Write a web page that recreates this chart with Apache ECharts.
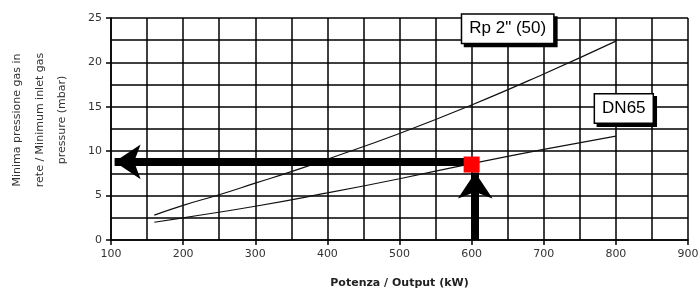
<!DOCTYPE html>
<html>
<head>
<meta charset="utf-8">
<script src="https://cdn.jsdelivr.net/npm/echarts@6/dist/echarts.min.js"></script>
<style>
  html, body { margin: 0; padding: 0; background: #fff; }
  #chart { width: 700px; height: 299px; }
</style>
</head>
<body>
<div id="chart"></div>
<script>
// curve Rp 2" (50)
const rpPower = [160, 200, 250, 300, 350, 400, 500, 600, 700, 800]
const rpPressure = [2.8, 3.9, 5.1, 6.4, 7.7, 9.1, 12.0, 15.2, 18.7, 22.4]
// curve DN65
const dnPower = [160, 200, 300, 400, 500, 600, 700, 800]
const dnPressure = [2.0, 2.5, 3.8, 5.3, 6.9, 8.6, 10.2, 11.7]
// reading example
const readPower = 600
const readPressure = 8.5
const arrowLevel = 8.8
const arrowEndX = 105
const arrowStartY = 0
const arrowTipY = 7.6
// labels
const labelRp = { text: 'Rp 2" (50)', x: 650, y: 23.8 }
const labelDn = { text: 'DN65', x: 811, y: 14.8 }
const yTitle = 'Minima pressione gas in\nrete / Minimum inlet gas\npressure (mbar)'

const chart = echarts.init(document.getElementById('chart'))

const pair = (xs, ys) => xs.map((x, i) => [x, ys[i]])

const boxLabel = (item, shadow) => ({
  value: [item.x, item.y],
  label: {
    show: true,
    position: 'inside',
    offset: shadow ? [3, 3] : [0, 0],
    formatter: item.text,
    color: '#000',
    fontFamily: 'Liberation Sans',
    fontSize: 17,
    backgroundColor: shadow ? '#000' : '#fff',
    borderColor: '#000',
    borderWidth: 1.5,
    padding: [6, 7, 5, 7]
  }
})

const axisFont = { fontFamily: 'DejaVu Sans', fontSize: 11, color: '#333' }
const blackLine = { color: '#000', width: 1.5 }

chart.setOption({
  animation: false,
  grid: { left: 111, right: 12, top: 18, bottom: 59, outerBoundsMode: 'none', containLabel: false },
  graphic: [{
    type: 'text',
    x: 40,
    y: 120,
    rotation: Math.PI / 2,
    style: {
      text: yTitle,
      align: 'center',
      verticalAlign: 'middle',
      fontFamily: 'DejaVu Sans',
      fontSize: 11,
      lineHeight: 22.5,
      fill: '#333'
    }
  }],
  xAxis: {
    type: 'value',
    min: 100,
    max: 900,
    interval: 100,
    name: 'Potenza / Output (kW)',
    nameLocation: 'middle',
    nameGap: 38,
    nameTextStyle: { fontFamily: 'DejaVu Sans', fontSize: 11, fontWeight: 'bold', color: '#222' },
    axisLine: { show: true, lineStyle: blackLine },
    axisTick: { show: true, length: 5, lineStyle: blackLine },
    axisLabel: Object.assign({ margin: 9 }, axisFont),
    splitLine: { show: true, lineStyle: blackLine },
    minorTick: { show: false, splitNumber: 2 },
    minorSplitLine: { show: true, lineStyle: blackLine }
  },
  yAxis: {
    type: 'value',
    min: 0,
    max: 25,
    interval: 5,
    axisLine: { show: true, lineStyle: blackLine },
    axisTick: { show: true, length: 5, lineStyle: blackLine },
    axisLabel: Object.assign({ margin: 9 }, axisFont),
    splitLine: { show: true, lineStyle: blackLine },
    minorTick: { show: false, splitNumber: 2 },
    minorSplitLine: { show: true, lineStyle: blackLine }
  },
  series: [
    {
      name: 'Rp 2" (50)',
      type: 'line',
      data: pair(rpPower, rpPressure),
      smooth: true,
      symbol: 'none',
      lineStyle: { color: '#111', width: 1.2 }
    },
    {
      name: 'DN65',
      type: 'line',
      data: pair(dnPower, dnPressure),
      smooth: true,
      symbol: 'none',
      lineStyle: { color: '#111', width: 1.2 },
      markLine: {
        silent: true,
        symbol: ['none', 'arrow'],
        symbolSize: [26, 26],
        lineStyle: { color: '#000', width: 8, type: 'solid' },
        label: { show: false },
        data: [
          [{ coord: [readPower, arrowLevel] }, { coord: [arrowEndX, arrowLevel] }],
          [{ coord: [readPower + 5, arrowStartY] }, { coord: [readPower + 5, arrowTipY] }]
        ]
      }
    },
    {
      type: 'scatter',
      data: [[readPower, readPressure]],
      symbol: 'rect',
      symbolSize: 16,
      itemStyle: { color: '#ff0000', opacity: 1 },
      z: 5
    },
    {
      type: 'scatter',
      data: [boxLabel(labelRp, true), boxLabel(labelDn, true)],
      symbolSize: 0,
      itemStyle: { opacity: 1 },
      z: 6
    },
    {
      type: 'scatter',
      data: [boxLabel(labelRp, false), boxLabel(labelDn, false)],
      symbolSize: 0,
      itemStyle: { opacity: 1 },
      z: 7
    }
  ]
})
</script>
</body>
</html>
